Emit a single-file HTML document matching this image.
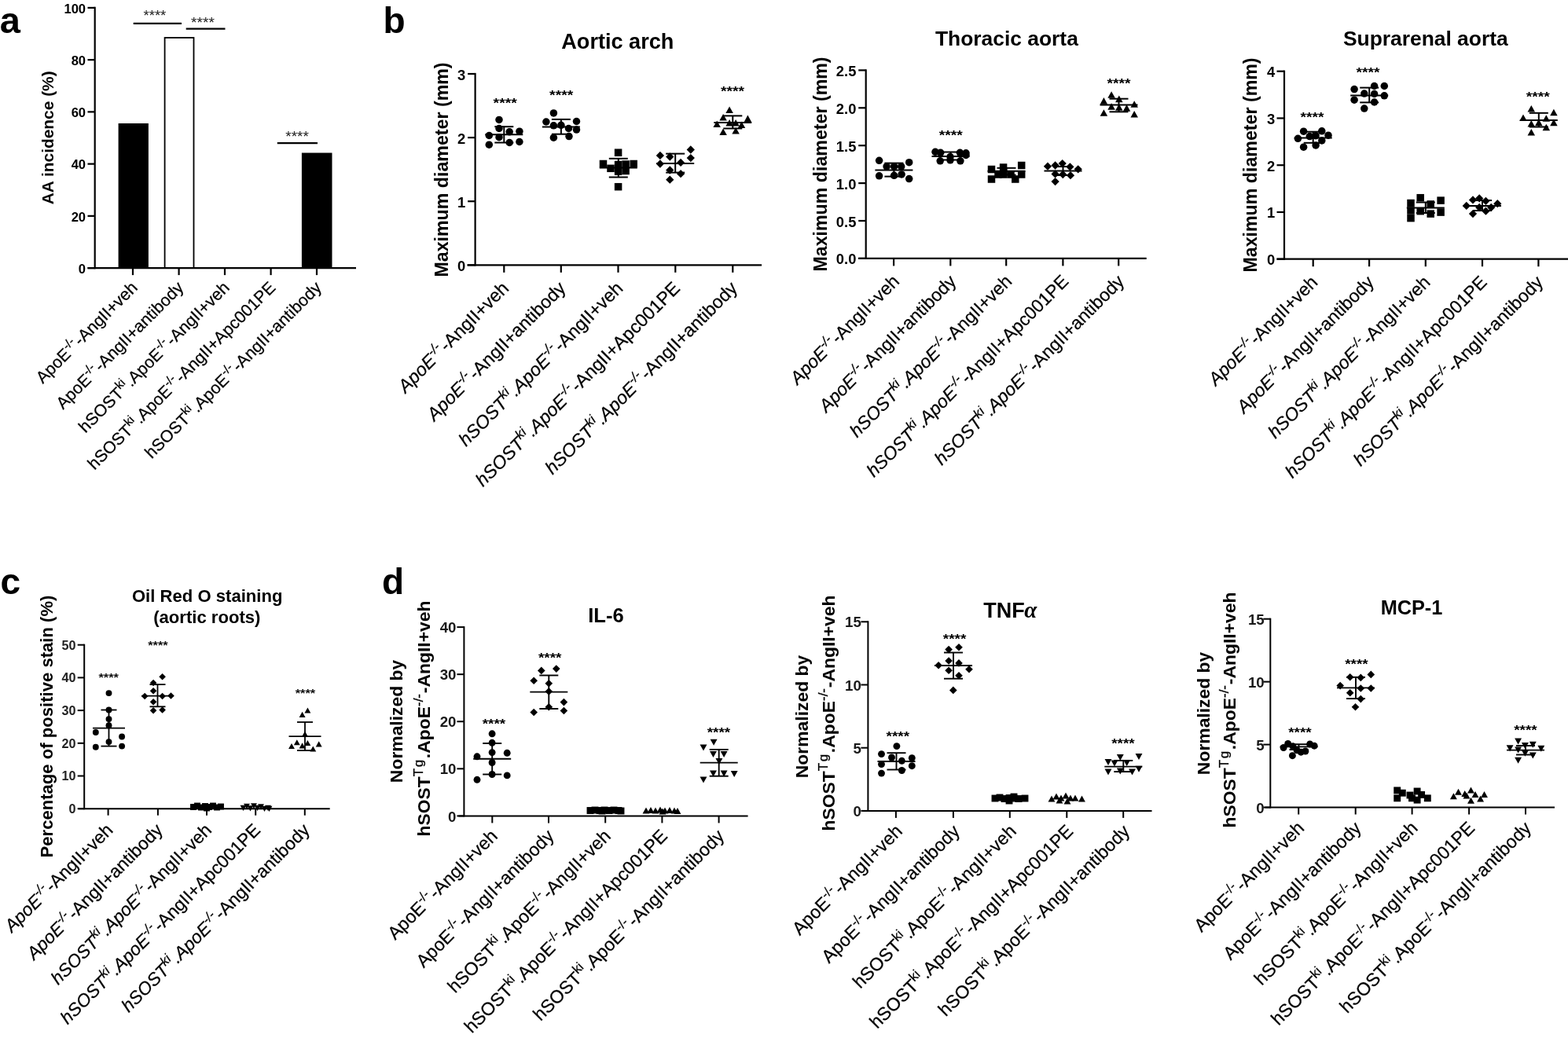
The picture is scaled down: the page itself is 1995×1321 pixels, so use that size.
<!DOCTYPE html>
<html><head><meta charset="utf-8"><title>Figure</title>
<style>html,body{margin:0;padding:0;background:#fff;overflow:hidden}svg{display:block}</style>
</head><body>
<svg width="1995" height="1321" viewBox="0 0 1995 1321" font-family="'Liberation Sans', Arial, sans-serif">
<rect width="1995" height="1321" fill="#fff"/>
<line x1="120.7" y1="8.8" x2="120.7" y2="342.2" stroke="#000" stroke-width="2.2"/>
<line x1="111.5" y1="341.1" x2="120.7" y2="341.1" stroke="#000" stroke-width="2.2"/>
<text x="109.1" y="347.74" font-size="16.6" font-weight="bold" text-anchor="end" fill="#000">0</text>
<line x1="111.5" y1="274.86" x2="120.7" y2="274.86" stroke="#000" stroke-width="2.2"/>
<text x="109.1" y="281.5" font-size="16.6" font-weight="bold" text-anchor="end" fill="#000">20</text>
<line x1="111.5" y1="208.62" x2="120.7" y2="208.62" stroke="#000" stroke-width="2.2"/>
<text x="109.1" y="215.26" font-size="16.6" font-weight="bold" text-anchor="end" fill="#000">40</text>
<line x1="111.5" y1="142.38" x2="120.7" y2="142.38" stroke="#000" stroke-width="2.2"/>
<text x="109.1" y="149.02" font-size="16.6" font-weight="bold" text-anchor="end" fill="#000">60</text>
<line x1="111.5" y1="76.14" x2="120.7" y2="76.14" stroke="#000" stroke-width="2.2"/>
<text x="109.1" y="82.78" font-size="16.6" font-weight="bold" text-anchor="end" fill="#000">80</text>
<line x1="111.5" y1="9.9" x2="120.7" y2="9.9" stroke="#000" stroke-width="2.2"/>
<text x="109.1" y="16.54" font-size="16.6" font-weight="bold" text-anchor="end" fill="#000">100</text>
<line x1="111.5" y1="341.1" x2="453" y2="341.1" stroke="#000" stroke-width="2.2"/>
<line x1="169" y1="341.1" x2="169" y2="350.1" stroke="#000" stroke-width="2.2"/>
<line x1="227.6" y1="341.1" x2="227.6" y2="350.1" stroke="#000" stroke-width="2.2"/>
<line x1="286" y1="341.1" x2="286" y2="350.1" stroke="#000" stroke-width="2.2"/>
<line x1="344.6" y1="341.1" x2="344.6" y2="350.1" stroke="#000" stroke-width="2.2"/>
<line x1="403" y1="341.1" x2="403" y2="350.1" stroke="#000" stroke-width="2.2"/>
<rect x="150.6" y="157" width="38.3" height="184.1"/>
<rect x="209.6" y="48" width="36.9" height="293.1" fill="none" stroke="#000" stroke-width="1.8"/>
<rect x="383.9" y="194.5" width="38.6" height="146.6"/>
<line x1="169.7" y1="29.9" x2="231" y2="29.9" stroke="#000" stroke-width="2.2"/>
<line x1="236.7" y1="36.7" x2="286.5" y2="36.7" stroke="#000" stroke-width="2.2"/>
<line x1="352.8" y1="182.1" x2="404" y2="182.1" stroke="#000" stroke-width="2.2"/>
<text x="196.9" y="25.66" font-size="18.5" text-anchor="middle" fill="#222" textLength="28.8" lengthAdjust="spacingAndGlyphs">****</text>
<text x="258" y="34.66" font-size="18.5" text-anchor="middle" fill="#222" textLength="29.8" lengthAdjust="spacingAndGlyphs">****</text>
<text x="378.1" y="179.96" font-size="18.5" text-anchor="middle" fill="#222" textLength="29.5" lengthAdjust="spacingAndGlyphs">****</text>
<text transform="translate(68,175.3) rotate(-90)" x="0" y="0" font-size="20.9" font-weight="bold" text-anchor="middle">AA incidence (%)</text>
<text x="-0.3" y="41.5" font-size="47" font-weight="bold" text-anchor="start" fill="#000">a</text>
<text transform="translate(176.2,367.3) rotate(-45)" x="0" y="0" font-size="21.4" text-anchor="end" stroke="#000" stroke-width="0.25"><tspan>ApoE</tspan><tspan dy="-8.56" font-size="15.41">-/-</tspan><tspan dx="1.28" dy="8.56">-AngII+veh</tspan></text>
<text transform="translate(234.8,367.3) rotate(-45)" x="0" y="0" font-size="21.4" text-anchor="end" stroke="#000" stroke-width="0.25"><tspan>ApoE</tspan><tspan dy="-8.56" font-size="15.41">-/-</tspan><tspan dx="1.28" dy="8.56">-AngII+antibody</tspan></text>
<text transform="translate(293.2,367.3) rotate(-45)" x="0" y="0" font-size="21.4" text-anchor="end" stroke="#000" stroke-width="0.25"><tspan>hSOST</tspan><tspan dy="-8.56" font-size="15.41">ki</tspan><tspan dx="1.28" dy="8.56">.ApoE</tspan><tspan dy="-8.56" font-size="15.41">-/-</tspan><tspan dx="1.28" dy="8.56">-AngII+veh</tspan></text>
<text transform="translate(351.8,367.3) rotate(-45)" x="0" y="0" font-size="21.4" text-anchor="end" stroke="#000" stroke-width="0.25"><tspan>hSOST</tspan><tspan dy="-8.56" font-size="15.41">ki</tspan><tspan dx="1.28" dy="8.56">.ApoE</tspan><tspan dy="-8.56" font-size="15.41">-/-</tspan><tspan dx="1.28" dy="8.56">-AngII+Apc001PE</tspan></text>
<text transform="translate(410.2,367.3) rotate(-45)" x="0" y="0" font-size="21.4" text-anchor="end" stroke="#000" stroke-width="0.25"><tspan>hSOST</tspan><tspan dy="-8.56" font-size="15.41">ki</tspan><tspan dx="1.28" dy="8.56">.ApoE</tspan><tspan dy="-8.56" font-size="15.41">-/-</tspan><tspan dx="1.28" dy="8.56">-AngII+antibody</tspan></text>
<text x="487.6" y="41.8" font-size="46" font-weight="bold" text-anchor="start" fill="#000">b</text>
<line x1="604.6" y1="92.9" x2="604.6" y2="338.4" stroke="#000" stroke-width="2.2"/>
<line x1="595.1" y1="337.3" x2="604.6" y2="337.3" stroke="#000" stroke-width="2.2"/>
<text x="592.2" y="344.84" font-size="18.4" font-weight="bold" text-anchor="end" fill="#000">0</text>
<line x1="595.1" y1="256.2" x2="604.6" y2="256.2" stroke="#000" stroke-width="2.2"/>
<text x="592.2" y="263.74" font-size="18.4" font-weight="bold" text-anchor="end" fill="#000">1</text>
<line x1="595.1" y1="175.1" x2="604.6" y2="175.1" stroke="#000" stroke-width="2.2"/>
<text x="592.2" y="182.64" font-size="18.4" font-weight="bold" text-anchor="end" fill="#000">2</text>
<line x1="595.1" y1="94" x2="604.6" y2="94" stroke="#000" stroke-width="2.2"/>
<text x="592.2" y="101.54" font-size="18.4" font-weight="bold" text-anchor="end" fill="#000">3</text>
<line x1="594.4" y1="337.3" x2="969.1" y2="337.3" stroke="#000" stroke-width="2.2"/>
<line x1="641.3" y1="337.3" x2="641.3" y2="346.8" stroke="#000" stroke-width="2.2"/>
<line x1="713.8" y1="337.3" x2="713.8" y2="346.8" stroke="#000" stroke-width="2.2"/>
<line x1="786.5" y1="337.3" x2="786.5" y2="346.8" stroke="#000" stroke-width="2.2"/>
<line x1="859.3" y1="337.3" x2="859.3" y2="346.8" stroke="#000" stroke-width="2.2"/>
<line x1="932.3" y1="337.3" x2="932.3" y2="346.8" stroke="#000" stroke-width="2.2"/>
<circle cx="635" cy="152.4" r="4.75"/>
<circle cx="635" cy="163.5" r="4.75"/>
<circle cx="648.2" cy="167.8" r="4.75"/>
<circle cx="660.9" cy="167.2" r="4.75"/>
<circle cx="622.3" cy="172.5" r="4.75"/>
<circle cx="635" cy="174.7" r="4.75"/>
<circle cx="622.3" cy="184.2" r="4.75"/>
<circle cx="648.2" cy="181.5" r="4.75"/>
<circle cx="660.9" cy="180.5" r="4.75"/>
<circle cx="704.4" cy="143.9" r="4.75"/>
<circle cx="694.9" cy="155" r="4.75"/>
<circle cx="733.5" cy="154.5" r="4.75"/>
<circle cx="704.4" cy="159.8" r="4.75"/>
<circle cx="713.9" cy="159.3" r="4.75"/>
<circle cx="723.5" cy="163.5" r="4.75"/>
<circle cx="733.5" cy="165.1" r="4.75"/>
<circle cx="704.4" cy="175.2" r="4.75"/>
<circle cx="724" cy="173.6" r="4.75"/>
<rect x="781.85" y="189.45" width="9.5" height="9.5"/>
<rect x="762.75" y="203.75" width="9.5" height="9.5"/>
<rect x="801.45" y="203.75" width="9.5" height="9.5"/>
<rect x="772.25" y="209.55" width="9.5" height="9.5"/>
<rect x="781.85" y="204.75" width="9.5" height="9.5"/>
<rect x="791.35" y="204.25" width="9.5" height="9.5"/>
<rect x="781.85" y="213.35" width="9.5" height="9.5"/>
<rect x="791.35" y="212.75" width="9.5" height="9.5"/>
<rect x="781.85" y="232.95" width="9.5" height="9.5"/>
<path d="M839.9 192.77L845.03 197.9L839.9 203.03L834.77 197.9Z"/>
<path d="M852.3 194.37L857.43 199.5L852.3 204.63L847.17 199.5Z"/>
<path d="M878.8 185.37L883.93 190.5L878.8 195.63L873.67 190.5Z"/>
<path d="M878.8 195.97L883.93 201.1L878.8 206.23L873.67 201.1Z"/>
<path d="M839.9 203.37L845.03 208.5L839.9 213.63L834.77 208.5Z"/>
<path d="M866.1 201.77L871.23 206.9L866.1 212.03L860.97 206.9Z"/>
<path d="M852.3 211.37L857.43 216.5L852.3 221.63L847.17 216.5Z"/>
<path d="M866.1 216.07L871.23 221.2L866.1 226.33L860.97 221.2Z"/>
<path d="M852.3 223.57L857.43 228.7L852.3 233.83L847.17 228.7Z"/>
<path d="M928.1 135.4L932.85 143.95L923.35 143.95Z"/>
<path d="M920.1 145L924.85 153.55L915.35 153.55Z"/>
<path d="M951.4 146.6L956.15 155.15L946.65 155.15Z"/>
<path d="M912.2 153.5L916.95 162.05L907.45 162.05Z"/>
<path d="M928.1 151.9L932.85 160.45L923.35 160.45Z"/>
<path d="M936.1 151.9L940.85 160.45L931.35 160.45Z"/>
<path d="M943.5 154.5L948.25 163.05L938.75 163.05Z"/>
<path d="M920.1 163.5L924.85 172.05L915.35 172.05Z"/>
<path d="M936.1 161.9L940.85 170.45L931.35 170.45Z"/>
<line x1="617.3" y1="171.3" x2="665.3" y2="171.3" stroke="#000" stroke-width="2"/>
<line x1="641.3" y1="161.2" x2="641.3" y2="181.5" stroke="#000" stroke-width="2"/>
<line x1="629.3" y1="161.2" x2="653.3" y2="161.2" stroke="#000" stroke-width="2"/>
<line x1="629.3" y1="181.5" x2="653.3" y2="181.5" stroke="#000" stroke-width="2"/>
<text x="642.7" y="136.53" font-size="17" font-weight="bold" text-anchor="middle" fill="#000" textLength="30.2" lengthAdjust="spacingAndGlyphs">****</text>
<line x1="689.9" y1="161.4" x2="737.9" y2="161.4" stroke="#000" stroke-width="2"/>
<line x1="713.9" y1="151.9" x2="713.9" y2="170.7" stroke="#000" stroke-width="2"/>
<line x1="701.9" y1="151.9" x2="725.9" y2="151.9" stroke="#000" stroke-width="2"/>
<line x1="701.9" y1="170.7" x2="725.9" y2="170.7" stroke="#000" stroke-width="2"/>
<text x="714.2" y="126.53" font-size="17" font-weight="bold" text-anchor="middle" fill="#000" textLength="30.2" lengthAdjust="spacingAndGlyphs">****</text>
<line x1="762.8" y1="213.6" x2="810.8" y2="213.6" stroke="#000" stroke-width="2"/>
<line x1="786.8" y1="201.8" x2="786.8" y2="225.5" stroke="#000" stroke-width="2"/>
<line x1="774.8" y1="201.8" x2="798.8" y2="201.8" stroke="#000" stroke-width="2"/>
<line x1="774.8" y1="225.5" x2="798.8" y2="225.5" stroke="#000" stroke-width="2"/>
<line x1="835.2" y1="208" x2="883.2" y2="208" stroke="#000" stroke-width="2"/>
<line x1="859.2" y1="195.6" x2="859.2" y2="219.6" stroke="#000" stroke-width="2"/>
<line x1="847.2" y1="195.6" x2="871.2" y2="195.6" stroke="#000" stroke-width="2"/>
<line x1="847.2" y1="219.6" x2="871.2" y2="219.6" stroke="#000" stroke-width="2"/>
<line x1="908.3" y1="156" x2="956.3" y2="156" stroke="#000" stroke-width="2"/>
<line x1="932.3" y1="147.4" x2="932.3" y2="163.5" stroke="#000" stroke-width="2"/>
<line x1="920.3" y1="147.4" x2="944.3" y2="147.4" stroke="#000" stroke-width="2"/>
<line x1="920.3" y1="163.5" x2="944.3" y2="163.5" stroke="#000" stroke-width="2"/>
<text x="932" y="122.23" font-size="17" font-weight="bold" text-anchor="middle" fill="#000" textLength="30.2" lengthAdjust="spacingAndGlyphs">****</text>
<text x="785.8" y="61.8" font-size="27.1" font-weight="bold" text-anchor="middle" fill="#000">Aortic arch</text>
<text transform="translate(569.5,216) rotate(-90)" x="0" y="0" font-size="23.2" font-weight="bold" text-anchor="middle">Maximum diameter (mm)</text>
<text transform="translate(648.6,368.3) rotate(-45)" x="0" y="0" font-size="23.3" text-anchor="end" stroke="#000" stroke-width="0.25"><tspan font-style="italic">ApoE</tspan><tspan font-style="italic" dy="-9.32" font-size="16.78">-/-</tspan><tspan dx="1.4" dy="9.32">-AngII+veh</tspan></text>
<text transform="translate(721.1,368.3) rotate(-45)" x="0" y="0" font-size="23.3" text-anchor="end" stroke="#000" stroke-width="0.25"><tspan font-style="italic">ApoE</tspan><tspan font-style="italic" dy="-9.32" font-size="16.78">-/-</tspan><tspan dx="1.4" dy="9.32">-AngII+antibody</tspan></text>
<text transform="translate(793.8,368.3) rotate(-45)" x="0" y="0" font-size="23.3" text-anchor="end" stroke="#000" stroke-width="0.25"><tspan font-style="italic">hSOST</tspan><tspan font-style="italic" dy="-9.32" font-size="16.78">ki</tspan><tspan font-style="italic" dx="1.4" dy="9.32">.ApoE</tspan><tspan font-style="italic" dy="-9.32" font-size="16.78">-/-</tspan><tspan dx="1.4" dy="9.32">-AngII+veh</tspan></text>
<text transform="translate(866.6,368.3) rotate(-45)" x="0" y="0" font-size="23.3" text-anchor="end" stroke="#000" stroke-width="0.25"><tspan font-style="italic">hSOST</tspan><tspan font-style="italic" dy="-9.32" font-size="16.78">ki</tspan><tspan font-style="italic" dx="1.4" dy="9.32">.ApoE</tspan><tspan font-style="italic" dy="-9.32" font-size="16.78">-/-</tspan><tspan dx="1.4" dy="9.32">-AngII+Apc001PE</tspan></text>
<text transform="translate(939.6,368.3) rotate(-45)" x="0" y="0" font-size="23.3" text-anchor="end" stroke="#000" stroke-width="0.25"><tspan font-style="italic">hSOST</tspan><tspan font-style="italic" dy="-9.32" font-size="16.78">ki</tspan><tspan font-style="italic" dx="1.4" dy="9.32">.ApoE</tspan><tspan font-style="italic" dy="-9.32" font-size="16.78">-/-</tspan><tspan dx="1.4" dy="9.32">-AngII+antibody</tspan></text>
<line x1="1101.7" y1="88.3" x2="1101.7" y2="330" stroke="#000" stroke-width="2.2"/>
<line x1="1092.2" y1="328.9" x2="1101.7" y2="328.9" stroke="#000" stroke-width="2.2"/>
<text x="1089.4" y="336.44" font-size="18.4" font-weight="bold" text-anchor="end" fill="#000">0.0</text>
<line x1="1092.2" y1="281" x2="1101.7" y2="281" stroke="#000" stroke-width="2.2"/>
<text x="1089.4" y="288.54" font-size="18.4" font-weight="bold" text-anchor="end" fill="#000">0.5</text>
<line x1="1092.2" y1="233.1" x2="1101.7" y2="233.1" stroke="#000" stroke-width="2.2"/>
<text x="1089.4" y="240.64" font-size="18.4" font-weight="bold" text-anchor="end" fill="#000">1.0</text>
<line x1="1092.2" y1="185.2" x2="1101.7" y2="185.2" stroke="#000" stroke-width="2.2"/>
<text x="1089.4" y="192.74" font-size="18.4" font-weight="bold" text-anchor="end" fill="#000">1.5</text>
<line x1="1092.2" y1="137.3" x2="1101.7" y2="137.3" stroke="#000" stroke-width="2.2"/>
<text x="1089.4" y="144.84" font-size="18.4" font-weight="bold" text-anchor="end" fill="#000">2.0</text>
<line x1="1092.2" y1="89.4" x2="1101.7" y2="89.4" stroke="#000" stroke-width="2.2"/>
<text x="1089.4" y="96.94" font-size="18.4" font-weight="bold" text-anchor="end" fill="#000">2.5</text>
<line x1="1092" y1="328.9" x2="1458.7" y2="328.9" stroke="#000" stroke-width="2.2"/>
<line x1="1137.1" y1="328.9" x2="1137.1" y2="338.4" stroke="#000" stroke-width="2.2"/>
<line x1="1209.3" y1="328.9" x2="1209.3" y2="338.4" stroke="#000" stroke-width="2.2"/>
<line x1="1280.2" y1="328.9" x2="1280.2" y2="338.4" stroke="#000" stroke-width="2.2"/>
<line x1="1352.4" y1="328.9" x2="1352.4" y2="338.4" stroke="#000" stroke-width="2.2"/>
<line x1="1423.2" y1="328.9" x2="1423.2" y2="338.4" stroke="#000" stroke-width="2.2"/>
<circle cx="1118.6" cy="204.3" r="4.75"/>
<circle cx="1156.7" cy="206.7" r="4.75"/>
<circle cx="1128.1" cy="211.9" r="4.75"/>
<circle cx="1137.6" cy="211.9" r="4.75"/>
<circle cx="1146.7" cy="211.9" r="4.75"/>
<circle cx="1118.6" cy="223.8" r="4.75"/>
<circle cx="1137.6" cy="223.3" r="4.75"/>
<circle cx="1147.1" cy="221.9" r="4.75"/>
<circle cx="1156.7" cy="227.6" r="4.75"/>
<circle cx="1190" cy="193.3" r="4.75"/>
<circle cx="1196.7" cy="194.3" r="4.75"/>
<circle cx="1221.4" cy="194.3" r="4.75"/>
<circle cx="1229" cy="194.8" r="4.75"/>
<circle cx="1209" cy="199.5" r="4.75"/>
<circle cx="1196.2" cy="204.8" r="4.75"/>
<circle cx="1209" cy="203.8" r="4.75"/>
<circle cx="1221.9" cy="204.8" r="4.75"/>
<circle cx="1229" cy="197.5" r="4.75"/>
<rect x="1256.75" y="210.75" width="9.5" height="9.5"/>
<rect x="1271.85" y="208.25" width="9.5" height="9.5"/>
<rect x="1294.95" y="205.75" width="9.5" height="9.5"/>
<rect x="1256.75" y="223.25" width="9.5" height="9.5"/>
<rect x="1287.05" y="223.25" width="9.5" height="9.5"/>
<rect x="1294.95" y="217.25" width="9.5" height="9.5"/>
<rect x="1271.85" y="217.25" width="9.5" height="9.5"/>
<rect x="1281.25" y="217.25" width="9.5" height="9.5"/>
<rect x="1265.25" y="217.25" width="9.5" height="9.5"/>
<path d="M1333 206.57L1338.13 211.7L1333 216.83L1327.87 211.7Z"/>
<path d="M1342.6 205.37L1347.73 210.5L1342.6 215.63L1337.47 210.5Z"/>
<path d="M1351.7 202.97L1356.83 208.1L1351.7 213.23L1346.57 208.1Z"/>
<path d="M1361.4 207.17L1366.53 212.3L1361.4 217.43L1356.27 212.3Z"/>
<path d="M1371.7 210.17L1376.83 215.3L1371.7 220.43L1366.57 215.3Z"/>
<path d="M1342.6 216.27L1347.73 221.4L1342.6 226.53L1337.47 221.4Z"/>
<path d="M1352.3 216.87L1357.43 222L1352.3 227.13L1347.17 222Z"/>
<path d="M1362 218.07L1367.13 223.2L1362 228.33L1356.87 223.2Z"/>
<path d="M1342.6 225.97L1347.73 231.1L1342.6 236.23L1337.47 231.1Z"/>
<path d="M1414.1 116.2L1418.85 124.75L1409.35 124.75Z"/>
<path d="M1423.8 121.6L1428.55 130.15L1419.05 130.15Z"/>
<path d="M1404.4 124.1L1409.15 132.65L1399.65 132.65Z"/>
<path d="M1443.2 128.3L1447.95 136.85L1438.45 136.85Z"/>
<path d="M1414.1 131.3L1418.85 139.85L1409.35 139.85Z"/>
<path d="M1423.8 132.3L1428.55 140.85L1419.05 140.85Z"/>
<path d="M1433.5 133.1L1438.25 141.65L1428.75 141.65Z"/>
<path d="M1404.4 139.2L1409.15 147.75L1399.65 147.75Z"/>
<path d="M1443.2 141L1447.95 149.55L1438.45 149.55Z"/>
<line x1="1113.4" y1="216.5" x2="1161.4" y2="216.5" stroke="#000" stroke-width="2"/>
<line x1="1137.4" y1="207.6" x2="1137.4" y2="224.6" stroke="#000" stroke-width="2"/>
<line x1="1125.4" y1="207.6" x2="1149.4" y2="207.6" stroke="#000" stroke-width="2"/>
<line x1="1125.4" y1="224.6" x2="1149.4" y2="224.6" stroke="#000" stroke-width="2"/>
<line x1="1185.5" y1="198.9" x2="1233.5" y2="198.9" stroke="#000" stroke-width="2"/>
<line x1="1209.5" y1="193.5" x2="1209.5" y2="203.5" stroke="#000" stroke-width="2"/>
<line x1="1197.5" y1="193.5" x2="1221.5" y2="193.5" stroke="#000" stroke-width="2"/>
<line x1="1197.5" y1="203.5" x2="1221.5" y2="203.5" stroke="#000" stroke-width="2"/>
<text x="1209.8" y="177.63" font-size="17" font-weight="bold" text-anchor="middle" fill="#000" textLength="30" lengthAdjust="spacingAndGlyphs">****</text>
<line x1="1256.5" y1="217.8" x2="1304.5" y2="217.8" stroke="#000" stroke-width="2"/>
<line x1="1280.5" y1="213.8" x2="1280.5" y2="222.6" stroke="#000" stroke-width="2"/>
<line x1="1268.5" y1="213.8" x2="1292.5" y2="213.8" stroke="#000" stroke-width="2"/>
<line x1="1268.5" y1="222.6" x2="1292.5" y2="222.6" stroke="#000" stroke-width="2"/>
<line x1="1328.5" y1="217.4" x2="1376.5" y2="217.4" stroke="#000" stroke-width="2"/>
<line x1="1352.5" y1="212" x2="1352.5" y2="223" stroke="#000" stroke-width="2"/>
<line x1="1340.5" y1="212" x2="1364.5" y2="212" stroke="#000" stroke-width="2"/>
<line x1="1340.5" y1="223" x2="1364.5" y2="223" stroke="#000" stroke-width="2"/>
<line x1="1399.5" y1="133.4" x2="1447.5" y2="133.4" stroke="#000" stroke-width="2"/>
<line x1="1423.5" y1="125.7" x2="1423.5" y2="142.3" stroke="#000" stroke-width="2"/>
<line x1="1411.5" y1="125.7" x2="1435.5" y2="125.7" stroke="#000" stroke-width="2"/>
<line x1="1411.5" y1="142.3" x2="1435.5" y2="142.3" stroke="#000" stroke-width="2"/>
<text x="1423.5" y="111.63" font-size="17" font-weight="bold" text-anchor="middle" fill="#000" textLength="30" lengthAdjust="spacingAndGlyphs">****</text>
<text x="1280.9" y="57.8" font-size="26.4" font-weight="bold" text-anchor="middle" fill="#000">Thoracic aorta</text>
<text transform="translate(1051.5,209) rotate(-90)" x="0" y="0" font-size="23.2" font-weight="bold" text-anchor="middle">Maximum diameter (mm)</text>
<text transform="translate(1145.6,359.5) rotate(-45)" x="0" y="0" font-size="23" text-anchor="end" stroke="#000" stroke-width="0.25"><tspan font-style="italic">ApoE</tspan><tspan font-style="italic" dy="-9.2" font-size="16.56">-/-</tspan><tspan dx="1.38" dy="9.2">-AngII+veh</tspan></text>
<text transform="translate(1217.8,359.5) rotate(-45)" x="0" y="0" font-size="23" text-anchor="end" stroke="#000" stroke-width="0.25"><tspan font-style="italic">ApoE</tspan><tspan font-style="italic" dy="-9.2" font-size="16.56">-/-</tspan><tspan dx="1.38" dy="9.2">-AngII+antibody</tspan></text>
<text transform="translate(1288.7,359.5) rotate(-45)" x="0" y="0" font-size="23" text-anchor="end" stroke="#000" stroke-width="0.25"><tspan font-style="italic">hSOST</tspan><tspan font-style="italic" dy="-9.2" font-size="16.56">ki</tspan><tspan font-style="italic" dx="1.38" dy="9.2">.ApoE</tspan><tspan font-style="italic" dy="-9.2" font-size="16.56">-/-</tspan><tspan dx="1.38" dy="9.2">-AngII+veh</tspan></text>
<text transform="translate(1360.9,359.5) rotate(-45)" x="0" y="0" font-size="23" text-anchor="end" stroke="#000" stroke-width="0.25"><tspan font-style="italic">hSOST</tspan><tspan font-style="italic" dy="-9.2" font-size="16.56">ki</tspan><tspan font-style="italic" dx="1.38" dy="9.2">.ApoE</tspan><tspan font-style="italic" dy="-9.2" font-size="16.56">-/-</tspan><tspan dx="1.38" dy="9.2">-AngII+Apc001PE</tspan></text>
<text transform="translate(1431.7,359.5) rotate(-45)" x="0" y="0" font-size="23" text-anchor="end" stroke="#000" stroke-width="0.25"><tspan font-style="italic">hSOST</tspan><tspan font-style="italic" dy="-9.2" font-size="16.56">ki</tspan><tspan font-style="italic" dx="1.38" dy="9.2">.ApoE</tspan><tspan font-style="italic" dy="-9.2" font-size="16.56">-/-</tspan><tspan dx="1.38" dy="9.2">-AngII+antibody</tspan></text>
<line x1="1634" y1="89.6" x2="1634" y2="330.8" stroke="#000" stroke-width="2.2"/>
<line x1="1624.5" y1="329.7" x2="1634" y2="329.7" stroke="#000" stroke-width="2.2"/>
<text x="1622.3" y="337.24" font-size="18.4" font-weight="bold" text-anchor="end" fill="#000">0</text>
<line x1="1624.5" y1="269.95" x2="1634" y2="269.95" stroke="#000" stroke-width="2.2"/>
<text x="1622.3" y="277.49" font-size="18.4" font-weight="bold" text-anchor="end" fill="#000">1</text>
<line x1="1624.5" y1="210.2" x2="1634" y2="210.2" stroke="#000" stroke-width="2.2"/>
<text x="1622.3" y="217.74" font-size="18.4" font-weight="bold" text-anchor="end" fill="#000">2</text>
<line x1="1624.5" y1="150.45" x2="1634" y2="150.45" stroke="#000" stroke-width="2.2"/>
<text x="1622.3" y="157.99" font-size="18.4" font-weight="bold" text-anchor="end" fill="#000">3</text>
<line x1="1624.5" y1="90.7" x2="1634" y2="90.7" stroke="#000" stroke-width="2.2"/>
<text x="1622.3" y="98.24" font-size="18.4" font-weight="bold" text-anchor="end" fill="#000">4</text>
<line x1="1624.5" y1="329.7" x2="1996" y2="329.7" stroke="#000" stroke-width="2.2"/>
<line x1="1670.7" y1="329.7" x2="1670.7" y2="339.2" stroke="#000" stroke-width="2.2"/>
<line x1="1742.1" y1="329.7" x2="1742.1" y2="339.2" stroke="#000" stroke-width="2.2"/>
<line x1="1813.8" y1="329.7" x2="1813.8" y2="339.2" stroke="#000" stroke-width="2.2"/>
<line x1="1886" y1="329.7" x2="1886" y2="339.2" stroke="#000" stroke-width="2.2"/>
<line x1="1957.4" y1="329.7" x2="1957.4" y2="339.2" stroke="#000" stroke-width="2.2"/>
<circle cx="1658.6" cy="167.2" r="4.75"/>
<circle cx="1681.8" cy="166.8" r="4.75"/>
<circle cx="1651.4" cy="176.3" r="4.75"/>
<circle cx="1666.3" cy="173.6" r="4.75"/>
<circle cx="1674.1" cy="172.7" r="4.75"/>
<circle cx="1690" cy="172.2" r="4.75"/>
<circle cx="1681.8" cy="179" r="4.75"/>
<circle cx="1658.6" cy="187.2" r="4.75"/>
<circle cx="1674.1" cy="184.9" r="4.75"/>
<circle cx="1723.1" cy="113.6" r="4.75"/>
<circle cx="1748.6" cy="109.5" r="4.75"/>
<circle cx="1761.3" cy="109.5" r="4.75"/>
<circle cx="1735.8" cy="119.1" r="4.75"/>
<circle cx="1748.6" cy="119.5" r="4.75"/>
<circle cx="1761.3" cy="121.8" r="4.75"/>
<circle cx="1723.1" cy="127.2" r="4.75"/>
<circle cx="1748.6" cy="130" r="4.75"/>
<circle cx="1735.8" cy="138.1" r="4.75"/>
<rect x="1790.25" y="253.75" width="9.5" height="9.5"/>
<rect x="1790.25" y="263.25" width="9.5" height="9.5"/>
<rect x="1790.25" y="272.85" width="9.5" height="9.5"/>
<rect x="1802.45" y="246.95" width="9.5" height="9.5"/>
<rect x="1802.45" y="263.95" width="9.5" height="9.5"/>
<rect x="1815.45" y="255.15" width="9.5" height="9.5"/>
<rect x="1815.45" y="267.35" width="9.5" height="9.5"/>
<rect x="1828.35" y="250.35" width="9.5" height="9.5"/>
<rect x="1828.35" y="265.35" width="9.5" height="9.5"/>
<path d="M1865.8 256.77L1870.93 261.9L1865.8 267.03L1860.67 261.9Z"/>
<path d="M1874 249.27L1879.13 254.4L1874 259.53L1868.87 254.4Z"/>
<path d="M1882.2 247.27L1887.33 252.4L1882.2 257.53L1877.07 252.4Z"/>
<path d="M1890.4 250.67L1895.53 255.8L1890.4 260.93L1885.27 255.8Z"/>
<path d="M1905.3 254.07L1910.43 259.2L1905.3 264.33L1900.17 259.2Z"/>
<path d="M1882.2 258.87L1887.33 264L1882.2 269.13L1877.07 264Z"/>
<path d="M1890.4 263.57L1895.53 268.7L1890.4 273.83L1885.27 268.7Z"/>
<path d="M1897.2 258.87L1902.33 264L1897.2 269.13L1892.07 264Z"/>
<path d="M1874 266.97L1879.13 272.1L1874 277.23L1868.87 272.1Z"/>
<path d="M1948.3 133.9L1953.05 142.45L1943.55 142.45Z"/>
<path d="M1976.9 138.7L1981.65 147.25L1972.15 147.25Z"/>
<path d="M1938 145.5L1942.75 154.05L1933.25 154.05Z"/>
<path d="M1967.3 146.2L1972.05 154.75L1962.55 154.75Z"/>
<path d="M1948.3 153L1953.05 161.55L1943.55 161.55Z"/>
<path d="M1957.8 151.6L1962.55 160.15L1953.05 160.15Z"/>
<path d="M1976.9 151.6L1981.65 160.15L1972.15 160.15Z"/>
<path d="M1967.3 157.8L1972.05 166.35L1962.55 166.35Z"/>
<path d="M1948.3 163.9L1953.05 172.45L1943.55 172.45Z"/>
<line x1="1646.7" y1="175.4" x2="1694.7" y2="175.4" stroke="#000" stroke-width="2"/>
<line x1="1670.7" y1="167.7" x2="1670.7" y2="181.8" stroke="#000" stroke-width="2"/>
<line x1="1658.7" y1="167.7" x2="1682.7" y2="167.7" stroke="#000" stroke-width="2"/>
<line x1="1658.7" y1="181.8" x2="1682.7" y2="181.8" stroke="#000" stroke-width="2"/>
<text x="1669.5" y="154.83" font-size="17" font-weight="bold" text-anchor="middle" fill="#000" textLength="30" lengthAdjust="spacingAndGlyphs">****</text>
<line x1="1718.2" y1="121.6" x2="1766.2" y2="121.6" stroke="#000" stroke-width="2"/>
<line x1="1742.2" y1="111.6" x2="1742.2" y2="130.4" stroke="#000" stroke-width="2"/>
<line x1="1730.2" y1="111.6" x2="1754.2" y2="111.6" stroke="#000" stroke-width="2"/>
<line x1="1730.2" y1="130.4" x2="1754.2" y2="130.4" stroke="#000" stroke-width="2"/>
<text x="1740.6" y="98.13" font-size="17" font-weight="bold" text-anchor="middle" fill="#000" textLength="30" lengthAdjust="spacingAndGlyphs">****</text>
<line x1="1789.8" y1="264.6" x2="1837.8" y2="264.6" stroke="#000" stroke-width="2"/>
<line x1="1813.8" y1="257.5" x2="1813.8" y2="271" stroke="#000" stroke-width="2"/>
<line x1="1801.8" y1="257.5" x2="1825.8" y2="257.5" stroke="#000" stroke-width="2"/>
<line x1="1801.8" y1="271" x2="1825.8" y2="271" stroke="#000" stroke-width="2"/>
<line x1="1862" y1="261.9" x2="1910" y2="261.9" stroke="#000" stroke-width="2"/>
<line x1="1886" y1="255" x2="1886" y2="268" stroke="#000" stroke-width="2"/>
<line x1="1874" y1="255" x2="1898" y2="255" stroke="#000" stroke-width="2"/>
<line x1="1874" y1="268" x2="1898" y2="268" stroke="#000" stroke-width="2"/>
<line x1="1933.8" y1="152.9" x2="1981.8" y2="152.9" stroke="#000" stroke-width="2"/>
<line x1="1957.8" y1="143.8" x2="1957.8" y2="161.5" stroke="#000" stroke-width="2"/>
<line x1="1945.8" y1="143.8" x2="1969.8" y2="143.8" stroke="#000" stroke-width="2"/>
<line x1="1945.8" y1="161.5" x2="1969.8" y2="161.5" stroke="#000" stroke-width="2"/>
<text x="1956.8" y="128.53" font-size="17" font-weight="bold" text-anchor="middle" fill="#000" textLength="30" lengthAdjust="spacingAndGlyphs">****</text>
<text x="1813.8" y="57.8" font-size="26.4" font-weight="bold" text-anchor="middle" fill="#000">Suprarenal aorta</text>
<text transform="translate(1598.5,210) rotate(-90)" x="0" y="0" font-size="23.2" font-weight="bold" text-anchor="middle">Maximum diameter (mm)</text>
<text transform="translate(1677.9,360.7) rotate(-45)" x="0" y="0" font-size="23" text-anchor="end" stroke="#000" stroke-width="0.25"><tspan font-style="italic">ApoE</tspan><tspan font-style="italic" dy="-9.2" font-size="16.56">-/-</tspan><tspan dx="1.38" dy="9.2">-AngII+veh</tspan></text>
<text transform="translate(1749.3,360.7) rotate(-45)" x="0" y="0" font-size="23" text-anchor="end" stroke="#000" stroke-width="0.25"><tspan font-style="italic">ApoE</tspan><tspan font-style="italic" dy="-9.2" font-size="16.56">-/-</tspan><tspan dx="1.38" dy="9.2">-AngII+antibody</tspan></text>
<text transform="translate(1821,360.7) rotate(-45)" x="0" y="0" font-size="23" text-anchor="end" stroke="#000" stroke-width="0.25"><tspan font-style="italic">hSOST</tspan><tspan font-style="italic" dy="-9.2" font-size="16.56">ki</tspan><tspan font-style="italic" dx="1.38" dy="9.2">.ApoE</tspan><tspan font-style="italic" dy="-9.2" font-size="16.56">-/-</tspan><tspan dx="1.38" dy="9.2">-AngII+veh</tspan></text>
<text transform="translate(1893.2,360.7) rotate(-45)" x="0" y="0" font-size="23" text-anchor="end" stroke="#000" stroke-width="0.25"><tspan font-style="italic">hSOST</tspan><tspan font-style="italic" dy="-9.2" font-size="16.56">ki</tspan><tspan font-style="italic" dx="1.38" dy="9.2">.ApoE</tspan><tspan font-style="italic" dy="-9.2" font-size="16.56">-/-</tspan><tspan dx="1.38" dy="9.2">-AngII+Apc001PE</tspan></text>
<text transform="translate(1964.6,360.7) rotate(-45)" x="0" y="0" font-size="23" text-anchor="end" stroke="#000" stroke-width="0.25"><tspan font-style="italic">hSOST</tspan><tspan font-style="italic" dy="-9.2" font-size="16.56">ki</tspan><tspan font-style="italic" dx="1.38" dy="9.2">.ApoE</tspan><tspan font-style="italic" dy="-9.2" font-size="16.56">-/-</tspan><tspan dx="1.38" dy="9.2">-AngII+antibody</tspan></text>
<text x="0.5" y="755.9" font-size="46" font-weight="bold" text-anchor="start" fill="#000">c</text>
<line x1="107.2" y1="819.7" x2="107.2" y2="1030.2" stroke="#000" stroke-width="2"/>
<line x1="98.7" y1="1029.2" x2="107.2" y2="1029.2" stroke="#000" stroke-width="2"/>
<text x="96.5" y="1035.03" font-size="16.2" font-weight="bold" text-anchor="end" fill="#222">0</text>
<line x1="98.7" y1="987.5" x2="107.2" y2="987.5" stroke="#000" stroke-width="2"/>
<text x="96.5" y="993.33" font-size="16.2" font-weight="bold" text-anchor="end" fill="#222">10</text>
<line x1="98.7" y1="945.8" x2="107.2" y2="945.8" stroke="#000" stroke-width="2"/>
<text x="96.5" y="951.63" font-size="16.2" font-weight="bold" text-anchor="end" fill="#222">20</text>
<line x1="98.7" y1="904.1" x2="107.2" y2="904.1" stroke="#000" stroke-width="2"/>
<text x="96.5" y="909.93" font-size="16.2" font-weight="bold" text-anchor="end" fill="#222">30</text>
<line x1="98.7" y1="862.4" x2="107.2" y2="862.4" stroke="#000" stroke-width="2"/>
<text x="96.5" y="868.23" font-size="16.2" font-weight="bold" text-anchor="end" fill="#222">40</text>
<line x1="98.7" y1="820.7" x2="107.2" y2="820.7" stroke="#000" stroke-width="2"/>
<text x="96.5" y="826.53" font-size="16.2" font-weight="bold" text-anchor="end" fill="#222">50</text>
<line x1="99.5" y1="1029.2" x2="419.7" y2="1029.2" stroke="#000" stroke-width="2"/>
<line x1="137.6" y1="1029.2" x2="137.6" y2="1037.7" stroke="#000" stroke-width="2"/>
<line x1="200.9" y1="1029.2" x2="200.9" y2="1037.7" stroke="#000" stroke-width="2"/>
<line x1="263" y1="1029.2" x2="263" y2="1037.7" stroke="#000" stroke-width="2"/>
<line x1="325.2" y1="1029.2" x2="325.2" y2="1037.7" stroke="#000" stroke-width="2"/>
<line x1="387.8" y1="1029.2" x2="387.8" y2="1037.7" stroke="#000" stroke-width="2"/>
<circle cx="138.5" cy="882.1" r="3.95"/>
<circle cx="138.5" cy="903.5" r="3.95"/>
<circle cx="138.5" cy="915.1" r="3.95"/>
<circle cx="138.5" cy="923.3" r="3.95"/>
<circle cx="121.8" cy="932" r="3.95"/>
<circle cx="155.1" cy="937.5" r="3.95"/>
<circle cx="138.5" cy="944.1" r="3.95"/>
<circle cx="121.8" cy="950.8" r="3.95"/>
<circle cx="155.1" cy="949.6" r="3.95"/>
<path d="M206.6 856.93L210.87 861.2L206.6 865.47L202.33 861.2Z"/>
<path d="M195.1 864.73L199.37 869L195.1 873.27L190.83 869Z"/>
<path d="M195.1 875.03L199.37 879.3L195.1 883.57L190.83 879.3Z"/>
<path d="M184.2 881.73L188.47 886L184.2 890.27L179.93 886Z"/>
<path d="M206.6 881.73L210.87 886L206.6 890.27L202.33 886Z"/>
<path d="M217.5 881.13L221.77 885.4L217.5 889.67L213.23 885.4Z"/>
<path d="M195.1 889.03L199.37 893.3L195.1 897.57L190.83 893.3Z"/>
<path d="M195.1 899.93L199.37 904.2L195.1 908.47L190.83 904.2Z"/>
<path d="M206.6 899.23L210.87 903.5L206.6 907.77L202.33 903.5Z"/>
<rect x="242.05" y="1023.05" width="7.9" height="7.9"/>
<rect x="247.05" y="1021.55" width="7.9" height="7.9"/>
<rect x="252.05" y="1023.55" width="7.9" height="7.9"/>
<rect x="257.05" y="1022.05" width="7.9" height="7.9"/>
<rect x="262.05" y="1023.05" width="7.9" height="7.9"/>
<rect x="267.05" y="1021.55" width="7.9" height="7.9"/>
<rect x="272.05" y="1023.55" width="7.9" height="7.9"/>
<rect x="277.05" y="1022.55" width="7.9" height="7.9"/>
<rect x="259.05" y="1024.55" width="7.9" height="7.9"/>
<path d="M309.5 1031.91L313.45 1024.8L305.55 1024.8Z"/>
<path d="M314 1029.91L317.95 1022.8L310.05 1022.8Z"/>
<path d="M318.5 1032.41L322.45 1025.3L314.55 1025.3Z"/>
<path d="M323 1029.41L326.95 1022.3L319.05 1022.3Z"/>
<path d="M327.5 1031.91L331.45 1024.8L323.55 1024.8Z"/>
<path d="M332 1030.41L335.95 1023.3L328.05 1023.3Z"/>
<path d="M336.5 1032.91L340.45 1025.8L332.55 1025.8Z"/>
<path d="M341 1031.91L344.95 1024.8L337.05 1024.8Z"/>
<path d="M342.5 1032.91L346.45 1025.8L338.55 1025.8Z"/>
<path d="M391.4 900.39L395.35 907.5L387.45 907.5Z"/>
<path d="M384.6 905.79L388.55 912.9L380.65 912.9Z"/>
<path d="M388 930.39L391.95 937.5L384.05 937.5Z"/>
<path d="M377.8 941.19L381.75 948.3L373.85 948.3Z"/>
<path d="M391.4 941.89L395.35 949L387.45 949Z"/>
<path d="M405.7 943.29L409.65 950.4L401.75 950.4Z"/>
<path d="M371 945.99L374.95 953.1L367.05 953.1Z"/>
<path d="M384.6 945.29L388.55 952.4L380.65 952.4Z"/>
<path d="M398.3 949.39L402.25 956.5L394.35 956.5Z"/>
<line x1="118" y1="926.6" x2="159" y2="926.6" stroke="#000" stroke-width="1.8"/>
<line x1="138.5" y1="903.5" x2="138.5" y2="949.6" stroke="#000" stroke-width="1.8"/>
<line x1="128.5" y1="903.5" x2="148.5" y2="903.5" stroke="#000" stroke-width="1.8"/>
<line x1="128.5" y1="949.6" x2="148.5" y2="949.6" stroke="#000" stroke-width="1.8"/>
<text x="138.2" y="866.9" font-size="14.5" font-weight="bold" text-anchor="middle" fill="#111" textLength="25.5" lengthAdjust="spacingAndGlyphs">****</text>
<line x1="180" y1="885.6" x2="221" y2="885.6" stroke="#000" stroke-width="1.8"/>
<line x1="200.5" y1="871.1" x2="200.5" y2="899.3" stroke="#000" stroke-width="1.8"/>
<line x1="190.5" y1="871.1" x2="210.5" y2="871.1" stroke="#000" stroke-width="1.8"/>
<line x1="190.5" y1="899.3" x2="210.5" y2="899.3" stroke="#000" stroke-width="1.8"/>
<text x="201" y="825.71" font-size="14.5" font-weight="bold" text-anchor="middle" fill="#111" textLength="25.5" lengthAdjust="spacingAndGlyphs">****</text>
<line x1="367.5" y1="937.2" x2="408.5" y2="937.2" stroke="#000" stroke-width="1.8"/>
<line x1="388" y1="919" x2="388" y2="955.1" stroke="#000" stroke-width="1.8"/>
<line x1="378" y1="919" x2="398" y2="919" stroke="#000" stroke-width="1.8"/>
<line x1="378" y1="955.1" x2="398" y2="955.1" stroke="#000" stroke-width="1.8"/>
<text x="388.4" y="887" font-size="14.5" font-weight="bold" text-anchor="middle" fill="#111" textLength="25.5" lengthAdjust="spacingAndGlyphs">****</text>
<text x="263.7" y="766.2" font-size="22.1" font-weight="bold" text-anchor="middle" fill="#000">Oil Red O staining</text>
<text x="263.3" y="792.7" font-size="22.1" font-weight="bold" text-anchor="middle" fill="#000">(aortic roots)</text>
<text transform="translate(67,924.5) rotate(-90)" x="0" y="0" font-size="22.1" font-weight="bold" text-anchor="middle">Percentage of positive stain (%)</text>
<text transform="translate(145,1057.8) rotate(-45)" x="0" y="0" font-size="22.8" text-anchor="end" stroke="#000" stroke-width="0.25"><tspan font-style="italic">ApoE</tspan><tspan font-style="italic" dy="-9.12" font-size="16.42">-/-</tspan><tspan dx="1.37" dy="9.12">-AngII+veh</tspan></text>
<text transform="translate(208.3,1057.8) rotate(-45)" x="0" y="0" font-size="22.8" text-anchor="end" stroke="#000" stroke-width="0.25"><tspan font-style="italic">ApoE</tspan><tspan font-style="italic" dy="-9.12" font-size="16.42">-/-</tspan><tspan dx="1.37" dy="9.12">-AngII+antibody</tspan></text>
<text transform="translate(270.4,1057.8) rotate(-45)" x="0" y="0" font-size="22.8" text-anchor="end" stroke="#000" stroke-width="0.25"><tspan font-style="italic">hSOST</tspan><tspan font-style="italic" dy="-9.12" font-size="16.42">ki</tspan><tspan font-style="italic" dx="1.37" dy="9.12">.ApoE</tspan><tspan font-style="italic" dy="-9.12" font-size="16.42">-/-</tspan><tspan dx="1.37" dy="9.12">-AngII+veh</tspan></text>
<text transform="translate(332.6,1057.8) rotate(-45)" x="0" y="0" font-size="22.8" text-anchor="end" stroke="#000" stroke-width="0.25"><tspan font-style="italic">hSOST</tspan><tspan font-style="italic" dy="-9.12" font-size="16.42">ki</tspan><tspan font-style="italic" dx="1.37" dy="9.12">.ApoE</tspan><tspan font-style="italic" dy="-9.12" font-size="16.42">-/-</tspan><tspan dx="1.37" dy="9.12">-AngII+Apc001PE</tspan></text>
<text transform="translate(395.2,1057.8) rotate(-45)" x="0" y="0" font-size="22.8" text-anchor="end" stroke="#000" stroke-width="0.25"><tspan font-style="italic">hSOST</tspan><tspan font-style="italic" dy="-9.12" font-size="16.42">ki</tspan><tspan font-style="italic" dx="1.37" dy="9.12">.ApoE</tspan><tspan font-style="italic" dy="-9.12" font-size="16.42">-/-</tspan><tspan dx="1.37" dy="9.12">-AngII+antibody</tspan></text>
<text x="486" y="755.9" font-size="46" font-weight="bold" text-anchor="start" fill="#000">d</text>
<line x1="590.4" y1="797.1" x2="590.4" y2="1039.4" stroke="#000" stroke-width="2"/>
<line x1="581.4" y1="1038.4" x2="590.4" y2="1038.4" stroke="#000" stroke-width="2"/>
<text x="580.5" y="1045.51" font-size="18.7" font-weight="bold" text-anchor="end" fill="#1a1a1a">0</text>
<line x1="581.4" y1="978.33" x2="590.4" y2="978.33" stroke="#000" stroke-width="2"/>
<text x="580.5" y="985.43" font-size="18.7" font-weight="bold" text-anchor="end" fill="#1a1a1a">10</text>
<line x1="581.4" y1="918.25" x2="590.4" y2="918.25" stroke="#000" stroke-width="2"/>
<text x="580.5" y="925.36" font-size="18.7" font-weight="bold" text-anchor="end" fill="#1a1a1a">20</text>
<line x1="581.4" y1="858.18" x2="590.4" y2="858.18" stroke="#000" stroke-width="2"/>
<text x="580.5" y="865.28" font-size="18.7" font-weight="bold" text-anchor="end" fill="#1a1a1a">30</text>
<line x1="581.4" y1="798.1" x2="590.4" y2="798.1" stroke="#000" stroke-width="2"/>
<text x="580.5" y="805.21" font-size="18.7" font-weight="bold" text-anchor="end" fill="#1a1a1a">40</text>
<line x1="583.4" y1="1038.4" x2="951.6" y2="1038.4" stroke="#000" stroke-width="2"/>
<line x1="626.3" y1="1038.4" x2="626.3" y2="1047.4" stroke="#000" stroke-width="2"/>
<line x1="698" y1="1038.4" x2="698" y2="1047.4" stroke="#000" stroke-width="2"/>
<line x1="770.2" y1="1038.4" x2="770.2" y2="1047.4" stroke="#000" stroke-width="2"/>
<line x1="842.4" y1="1038.4" x2="842.4" y2="1047.4" stroke="#000" stroke-width="2"/>
<line x1="914.6" y1="1038.4" x2="914.6" y2="1047.4" stroke="#000" stroke-width="2"/>
<circle cx="626.1" cy="933.8" r="4.45"/>
<circle cx="626.1" cy="945.3" r="4.45"/>
<circle cx="626.1" cy="957.6" r="4.45"/>
<circle cx="645.2" cy="958.3" r="4.45"/>
<circle cx="607" cy="962.8" r="4.45"/>
<circle cx="626.1" cy="970.5" r="4.45"/>
<circle cx="626.1" cy="985.5" r="4.45"/>
<circle cx="645.2" cy="986.9" r="4.45"/>
<circle cx="607" cy="992.3" r="4.45"/>
<path d="M688.8 848.59L693.61 853.4L688.8 858.21L683.99 853.4Z"/>
<path d="M707.8 846.29L712.61 851.1L707.8 855.91L702.99 851.1Z"/>
<path d="M679.2 861.49L684.01 866.3L679.2 871.11L674.39 866.3Z"/>
<path d="M698.3 864.89L703.11 869.7L698.3 874.51L693.49 869.7Z"/>
<path d="M698.3 875.09L703.11 879.9L698.3 884.71L693.49 879.9Z"/>
<path d="M717.4 888.79L722.21 893.6L717.4 898.41L712.59 893.6Z"/>
<path d="M698.3 894.89L703.11 899.7L698.3 904.51L693.49 899.7Z"/>
<path d="M679.2 901.69L684.01 906.5L679.2 911.31L674.39 906.5Z"/>
<path d="M717.4 899.69L722.21 904.5L717.4 909.31L712.59 904.5Z"/>
<rect x="746.55" y="1027.05" width="8.9" height="8.9"/>
<rect x="752.55" y="1026.55" width="8.9" height="8.9"/>
<rect x="758.55" y="1027.05" width="8.9" height="8.9"/>
<rect x="764.55" y="1026.55" width="8.9" height="8.9"/>
<rect x="770.55" y="1027.05" width="8.9" height="8.9"/>
<rect x="776.55" y="1026.55" width="8.9" height="8.9"/>
<rect x="782.55" y="1027.05" width="8.9" height="8.9"/>
<rect x="785.55" y="1027.55" width="8.9" height="8.9"/>
<rect x="761.55" y="1027.55" width="8.9" height="8.9"/>
<path d="M822 1027.59L826.45 1035.6L817.55 1035.6Z"/>
<path d="M828 1027.09L832.45 1035.1L823.55 1035.1Z"/>
<path d="M834 1027.59L838.45 1035.6L829.55 1035.6Z"/>
<path d="M840 1026.59L844.45 1034.6L835.55 1034.6Z"/>
<path d="M846 1027.59L850.45 1035.6L841.55 1035.6Z"/>
<path d="M852 1027.09L856.45 1035.1L847.55 1035.1Z"/>
<path d="M858 1027.59L862.45 1035.6L853.55 1035.6Z"/>
<path d="M862 1028.09L866.45 1036.1L857.55 1036.1Z"/>
<path d="M843 1028.59L847.45 1036.6L838.55 1036.6Z"/>
<path d="M908.1 948.71L912.55 940.7L903.65 940.7Z"/>
<path d="M895 955.51L899.45 947.5L890.55 947.5Z"/>
<path d="M907.5 964.01L911.95 956L903.05 956Z"/>
<path d="M921.1 964.01L925.55 956L916.65 956Z"/>
<path d="M914.9 973.11L919.35 965.1L910.45 965.1Z"/>
<path d="M907.5 988.41L911.95 980.4L903.05 980.4Z"/>
<path d="M921.1 988.41L925.55 980.4L916.65 980.4Z"/>
<path d="M934.2 989.01L938.65 981L929.75 981Z"/>
<path d="M895 996.41L899.45 988.4L890.55 988.4Z"/>
<line x1="602.2" y1="965.8" x2="650.2" y2="965.8" stroke="#000" stroke-width="1.9"/>
<line x1="626.2" y1="946" x2="626.2" y2="985.5" stroke="#000" stroke-width="1.9"/>
<line x1="614.2" y1="946" x2="638.2" y2="946" stroke="#000" stroke-width="1.9"/>
<line x1="614.2" y1="985.5" x2="638.2" y2="985.5" stroke="#000" stroke-width="1.9"/>
<text x="628.4" y="927.38" font-size="16.5" font-weight="bold" text-anchor="middle" fill="#000" textLength="29.5" lengthAdjust="spacingAndGlyphs">****</text>
<line x1="674.3" y1="880.6" x2="722.3" y2="880.6" stroke="#000" stroke-width="1.9"/>
<line x1="698.3" y1="859.5" x2="698.3" y2="902" stroke="#000" stroke-width="1.9"/>
<line x1="686.3" y1="859.5" x2="710.3" y2="859.5" stroke="#000" stroke-width="1.9"/>
<line x1="686.3" y1="902" x2="710.3" y2="902" stroke="#000" stroke-width="1.9"/>
<text x="699.7" y="842.99" font-size="16.5" font-weight="bold" text-anchor="middle" fill="#000" textLength="29.5" lengthAdjust="spacingAndGlyphs">****</text>
<line x1="890.7" y1="970.6" x2="938.7" y2="970.6" stroke="#000" stroke-width="1.9"/>
<line x1="914.7" y1="953.9" x2="914.7" y2="987.7" stroke="#000" stroke-width="1.9"/>
<line x1="902.7" y1="953.9" x2="926.7" y2="953.9" stroke="#000" stroke-width="1.9"/>
<line x1="902.7" y1="987.7" x2="926.7" y2="987.7" stroke="#000" stroke-width="1.9"/>
<text x="914.4" y="937.68" font-size="16.5" font-weight="bold" text-anchor="middle" fill="#000" textLength="29.5" lengthAdjust="spacingAndGlyphs">****</text>
<text x="770.9" y="792.4" font-size="25.6" font-weight="bold" text-anchor="middle" fill="#000">IL-6</text>
<text transform="translate(512.4,917.9) rotate(-90)" x="0" y="0" font-size="22.9" font-weight="bold" text-anchor="middle">Normalized by</text>
<text transform="translate(546.8,914.5) rotate(-90)" x="0" y="0" font-size="22.9" font-weight="bold" text-anchor="middle">hSOST<tspan dy="-9" font-weight="normal" font-size="17" stroke="#000" stroke-width="0.3" letter-spacing="1.6">Tg</tspan><tspan dy="9">.ApoE</tspan><tspan dy="-9" font-weight="normal" font-size="17" stroke="#000" stroke-width="0.3">-/-</tspan><tspan dy="9" dx="0.8">-AngII+veh</tspan></text>
<text transform="translate(634.4,1065.4) rotate(-45)" x="0" y="0" font-size="23.15" text-anchor="end" stroke="#000" stroke-width="0.25"><tspan>ApoE</tspan><tspan dy="-9.26" font-size="16.67">-/-</tspan><tspan dx="1.39" dy="9.26">-AngII+veh</tspan></text>
<text transform="translate(706.1,1065.4) rotate(-45)" x="0" y="0" font-size="23.15" text-anchor="end" stroke="#000" stroke-width="0.25"><tspan>ApoE</tspan><tspan dy="-9.26" font-size="16.67">-/-</tspan><tspan dx="1.39" dy="9.26">-AngII+antibody</tspan></text>
<text transform="translate(778.3,1065.4) rotate(-45)" x="0" y="0" font-size="23.15" text-anchor="end" stroke="#000" stroke-width="0.25"><tspan>hSOST</tspan><tspan dy="-9.26" font-size="16.67">ki</tspan><tspan dx="1.39" dy="9.26">.ApoE</tspan><tspan dy="-9.26" font-size="16.67">-/-</tspan><tspan dx="1.39" dy="9.26">-AngII+veh</tspan></text>
<text transform="translate(850.5,1065.4) rotate(-45)" x="0" y="0" font-size="23.15" text-anchor="end" stroke="#000" stroke-width="0.25"><tspan>hSOST</tspan><tspan dy="-9.26" font-size="16.67">ki</tspan><tspan dx="1.39" dy="9.26">.ApoE</tspan><tspan dy="-9.26" font-size="16.67">-/-</tspan><tspan dx="1.39" dy="9.26">-AngII+Apc001PE</tspan></text>
<text transform="translate(922.7,1065.4) rotate(-45)" x="0" y="0" font-size="23.15" text-anchor="end" stroke="#000" stroke-width="0.25"><tspan>hSOST</tspan><tspan dy="-9.26" font-size="16.67">ki</tspan><tspan dx="1.39" dy="9.26">.ApoE</tspan><tspan dy="-9.26" font-size="16.67">-/-</tspan><tspan dx="1.39" dy="9.26">-AngII+antibody</tspan></text>
<line x1="1104.4" y1="790.3" x2="1104.4" y2="1032.9" stroke="#000" stroke-width="2"/>
<line x1="1095.4" y1="1031.9" x2="1104.4" y2="1031.9" stroke="#000" stroke-width="2"/>
<text x="1095.8" y="1039.01" font-size="18.7" font-weight="bold" text-anchor="end" fill="#1a1a1a">0</text>
<line x1="1095.4" y1="951.7" x2="1104.4" y2="951.7" stroke="#000" stroke-width="2"/>
<text x="1095.8" y="958.81" font-size="18.7" font-weight="bold" text-anchor="end" fill="#1a1a1a">5</text>
<line x1="1095.4" y1="871.5" x2="1104.4" y2="871.5" stroke="#000" stroke-width="2"/>
<text x="1095.8" y="878.61" font-size="18.7" font-weight="bold" text-anchor="end" fill="#1a1a1a">10</text>
<line x1="1095.4" y1="791.3" x2="1104.4" y2="791.3" stroke="#000" stroke-width="2"/>
<text x="1095.8" y="798.41" font-size="18.7" font-weight="bold" text-anchor="end" fill="#1a1a1a">15</text>
<line x1="1097.6" y1="1031.9" x2="1465.5" y2="1031.9" stroke="#000" stroke-width="2"/>
<line x1="1139.9" y1="1031.9" x2="1139.9" y2="1040.9" stroke="#000" stroke-width="2"/>
<line x1="1212.9" y1="1031.9" x2="1212.9" y2="1040.9" stroke="#000" stroke-width="2"/>
<line x1="1284.8" y1="1031.9" x2="1284.8" y2="1040.9" stroke="#000" stroke-width="2"/>
<line x1="1357.3" y1="1031.9" x2="1357.3" y2="1040.9" stroke="#000" stroke-width="2"/>
<line x1="1429.2" y1="1031.9" x2="1429.2" y2="1040.9" stroke="#000" stroke-width="2"/>
<circle cx="1140.9" cy="949.6" r="4.45"/>
<circle cx="1121.5" cy="959.6" r="4.45"/>
<circle cx="1134.5" cy="964" r="4.45"/>
<circle cx="1160.3" cy="964.7" r="4.45"/>
<circle cx="1147.4" cy="968.3" r="4.45"/>
<circle cx="1121.5" cy="972.6" r="4.45"/>
<circle cx="1160.3" cy="974.7" r="4.45"/>
<circle cx="1147.4" cy="980.5" r="4.45"/>
<circle cx="1121.5" cy="984.1" r="4.45"/>
<path d="M1207.1 821.79L1211.91 826.6L1207.1 831.41L1202.29 826.6Z"/>
<path d="M1220 818.89L1224.81 823.7L1220 828.51L1215.19 823.7Z"/>
<path d="M1207.1 836.19L1211.91 841L1207.1 845.81L1202.29 841Z"/>
<path d="M1220 839.09L1224.81 843.9L1220 848.71L1215.19 843.9Z"/>
<path d="M1194.1 841.89L1198.91 846.7L1194.1 851.51L1189.29 846.7Z"/>
<path d="M1207.1 848.39L1211.91 853.2L1207.1 858.01L1202.29 853.2Z"/>
<path d="M1233 846.99L1237.81 851.8L1233 856.61L1228.19 851.8Z"/>
<path d="M1220 854.89L1224.81 859.7L1220 864.51L1215.19 859.7Z"/>
<path d="M1212.8 873.59L1217.61 878.4L1212.8 883.21L1207.99 878.4Z"/>
<rect x="1261.55" y="1011.55" width="8.9" height="8.9"/>
<rect x="1267.55" y="1010.55" width="8.9" height="8.9"/>
<rect x="1273.55" y="1012.05" width="8.9" height="8.9"/>
<rect x="1279.55" y="1011.05" width="8.9" height="8.9"/>
<rect x="1285.55" y="1011.55" width="8.9" height="8.9"/>
<rect x="1291.55" y="1012.05" width="8.9" height="8.9"/>
<rect x="1299.55" y="1011.55" width="8.9" height="8.9"/>
<rect x="1279.55" y="1014.55" width="8.9" height="8.9"/>
<rect x="1285.55" y="1009.55" width="8.9" height="8.9"/>
<path d="M1338 1012.59L1342.45 1020.6L1333.55 1020.6Z"/>
<path d="M1344 1009.59L1348.45 1017.6L1339.55 1017.6Z"/>
<path d="M1350 1011.59L1354.45 1019.6L1345.55 1019.6Z"/>
<path d="M1356 1008.59L1360.45 1016.6L1351.55 1016.6Z"/>
<path d="M1362 1011.59L1366.45 1019.6L1357.55 1019.6Z"/>
<path d="M1368 1011.59L1372.45 1019.6L1363.55 1019.6Z"/>
<path d="M1376.5 1012.59L1380.95 1020.6L1372.05 1020.6Z"/>
<path d="M1358 1015.59L1362.45 1023.6L1353.55 1023.6Z"/>
<path d="M1348 1014.59L1352.45 1022.6L1343.55 1022.6Z"/>
<path d="M1425.3 968.11L1429.75 960.1L1420.85 960.1Z"/>
<path d="M1449 967.01L1453.45 959L1444.55 959Z"/>
<path d="M1410 973.91L1414.45 965.9L1405.55 965.9Z"/>
<path d="M1418 975.41L1422.45 967.4L1413.55 967.4Z"/>
<path d="M1433.7 974.91L1438.15 966.9L1429.25 966.9Z"/>
<path d="M1410 986.51L1414.45 978.5L1405.55 978.5Z"/>
<path d="M1425.3 985.51L1429.75 977.5L1420.85 977.5Z"/>
<path d="M1440.5 986.51L1444.95 978.5L1436.05 978.5Z"/>
<path d="M1449 982.81L1453.45 974.8L1444.55 974.8Z"/>
<line x1="1116.5" y1="969" x2="1164.5" y2="969" stroke="#000" stroke-width="1.9"/>
<line x1="1140.5" y1="958.2" x2="1140.5" y2="979.5" stroke="#000" stroke-width="1.9"/>
<line x1="1128.5" y1="958.2" x2="1152.5" y2="958.2" stroke="#000" stroke-width="1.9"/>
<line x1="1128.5" y1="979.5" x2="1152.5" y2="979.5" stroke="#000" stroke-width="1.9"/>
<text x="1142.3" y="942.99" font-size="16.5" font-weight="bold" text-anchor="middle" fill="#000" textLength="29.5" lengthAdjust="spacingAndGlyphs">****</text>
<line x1="1189" y1="847" x2="1237" y2="847" stroke="#000" stroke-width="1.9"/>
<line x1="1213" y1="830.5" x2="1213" y2="863.7" stroke="#000" stroke-width="1.9"/>
<line x1="1201" y1="830.5" x2="1225" y2="830.5" stroke="#000" stroke-width="1.9"/>
<line x1="1201" y1="863.7" x2="1225" y2="863.7" stroke="#000" stroke-width="1.9"/>
<text x="1214.6" y="818.59" font-size="16.5" font-weight="bold" text-anchor="middle" fill="#000" textLength="29.5" lengthAdjust="spacingAndGlyphs">****</text>
<line x1="1405.3" y1="975.6" x2="1453.3" y2="975.6" stroke="#000" stroke-width="1.9"/>
<line x1="1429.3" y1="967.9" x2="1429.3" y2="982.1" stroke="#000" stroke-width="1.9"/>
<line x1="1417.3" y1="967.9" x2="1441.3" y2="967.9" stroke="#000" stroke-width="1.9"/>
<line x1="1417.3" y1="982.1" x2="1441.3" y2="982.1" stroke="#000" stroke-width="1.9"/>
<text x="1429" y="952.38" font-size="16.5" font-weight="bold" text-anchor="middle" fill="#000" textLength="29.5" lengthAdjust="spacingAndGlyphs">****</text>
<text x="1285.2" y="785.6" font-size="27" font-weight="bold" text-anchor="middle" fill="#000">TNF<tspan font-family="&apos;Liberation Serif&apos;, serif" font-style="italic" font-size="29" dx="-0.5">&#945;</tspan></text>
<text transform="translate(1027.7,912) rotate(-90)" x="0" y="0" font-size="22.9" font-weight="bold" text-anchor="middle">Normalized by</text>
<text transform="translate(1061.8,907.5) rotate(-90)" x="0" y="0" font-size="22.9" font-weight="bold" text-anchor="middle">hSOST<tspan dy="-9" font-weight="normal" font-size="17" stroke="#000" stroke-width="0.3" letter-spacing="1.6">Tg</tspan><tspan dy="9">.ApoE</tspan><tspan dy="-9" font-weight="normal" font-size="17" stroke="#000" stroke-width="0.3">-/-</tspan><tspan dy="9" dx="0.8">-AngII+veh</tspan></text>
<text transform="translate(1149.4,1059.2) rotate(-45)" x="0" y="0" font-size="23.2" text-anchor="end" stroke="#000" stroke-width="0.25"><tspan>ApoE</tspan><tspan dy="-9.28" font-size="16.7">-/-</tspan><tspan dx="1.39" dy="9.28">-AngII+veh</tspan></text>
<text transform="translate(1222.4,1059.2) rotate(-45)" x="0" y="0" font-size="23.2" text-anchor="end" stroke="#000" stroke-width="0.25"><tspan>ApoE</tspan><tspan dy="-9.28" font-size="16.7">-/-</tspan><tspan dx="1.39" dy="9.28">-AngII+antibody</tspan></text>
<text transform="translate(1294.3,1059.2) rotate(-45)" x="0" y="0" font-size="23.2" text-anchor="end" stroke="#000" stroke-width="0.25"><tspan>hSOST</tspan><tspan dy="-9.28" font-size="16.7">ki</tspan><tspan dx="1.39" dy="9.28">.ApoE</tspan><tspan dy="-9.28" font-size="16.7">-/-</tspan><tspan dx="1.39" dy="9.28">-AngII+veh</tspan></text>
<text transform="translate(1366.8,1059.2) rotate(-45)" x="0" y="0" font-size="23.2" text-anchor="end" stroke="#000" stroke-width="0.25"><tspan>hSOST</tspan><tspan dy="-9.28" font-size="16.7">ki</tspan><tspan dx="1.39" dy="9.28">.ApoE</tspan><tspan dy="-9.28" font-size="16.7">-/-</tspan><tspan dx="1.39" dy="9.28">-AngII+Apc001PE</tspan></text>
<text transform="translate(1438.7,1059.2) rotate(-45)" x="0" y="0" font-size="23.2" text-anchor="end" stroke="#000" stroke-width="0.25"><tspan>hSOST</tspan><tspan dy="-9.28" font-size="16.7">ki</tspan><tspan dx="1.39" dy="9.28">.ApoE</tspan><tspan dy="-9.28" font-size="16.7">-/-</tspan><tspan dx="1.39" dy="9.28">-AngII+antibody</tspan></text>
<line x1="1616.3" y1="786.7" x2="1616.3" y2="1028.5" stroke="#000" stroke-width="2"/>
<line x1="1607.3" y1="1027.5" x2="1616.3" y2="1027.5" stroke="#000" stroke-width="2"/>
<text x="1608.7" y="1034.61" font-size="18.7" font-weight="bold" text-anchor="end" fill="#1a1a1a">0</text>
<line x1="1607.3" y1="947.57" x2="1616.3" y2="947.57" stroke="#000" stroke-width="2"/>
<text x="1608.7" y="954.67" font-size="18.7" font-weight="bold" text-anchor="end" fill="#1a1a1a">5</text>
<line x1="1607.3" y1="867.63" x2="1616.3" y2="867.63" stroke="#000" stroke-width="2"/>
<text x="1608.7" y="874.74" font-size="18.7" font-weight="bold" text-anchor="end" fill="#1a1a1a">10</text>
<line x1="1607.3" y1="787.7" x2="1616.3" y2="787.7" stroke="#000" stroke-width="2"/>
<text x="1608.7" y="794.81" font-size="18.7" font-weight="bold" text-anchor="end" fill="#1a1a1a">15</text>
<line x1="1609.5" y1="1027.5" x2="1978" y2="1027.5" stroke="#000" stroke-width="2"/>
<line x1="1652.2" y1="1027.5" x2="1652.2" y2="1036.5" stroke="#000" stroke-width="2"/>
<line x1="1724.7" y1="1027.5" x2="1724.7" y2="1036.5" stroke="#000" stroke-width="2"/>
<line x1="1796.6" y1="1027.5" x2="1796.6" y2="1036.5" stroke="#000" stroke-width="2"/>
<line x1="1869.1" y1="1027.5" x2="1869.1" y2="1036.5" stroke="#000" stroke-width="2"/>
<line x1="1941" y1="1027.5" x2="1941" y2="1036.5" stroke="#000" stroke-width="2"/>
<circle cx="1638.7" cy="946.4" r="4.45"/>
<circle cx="1633.1" cy="951.5" r="4.45"/>
<circle cx="1645" cy="949.8" r="4.45"/>
<circle cx="1666.6" cy="947" r="4.45"/>
<circle cx="1672.2" cy="949.2" r="4.45"/>
<circle cx="1655.2" cy="957.2" r="4.45"/>
<circle cx="1660.9" cy="956" r="4.45"/>
<circle cx="1644.4" cy="961.7" r="4.45"/>
<circle cx="1650.1" cy="954.9" r="4.45"/>
<path d="M1717.7 856.99L1722.51 861.8L1717.7 866.61L1712.89 861.8Z"/>
<path d="M1731.3 857.59L1736.11 862.4L1731.3 867.21L1726.49 862.4Z"/>
<path d="M1744.3 853.59L1749.11 858.4L1744.3 863.21L1739.49 858.4Z"/>
<path d="M1705.2 867.79L1710.01 872.6L1705.2 877.41L1700.39 872.6Z"/>
<path d="M1731.3 871.19L1736.11 876L1731.3 880.81L1726.49 876Z"/>
<path d="M1744.3 871.19L1749.11 876L1744.3 880.81L1739.49 876Z"/>
<path d="M1717.7 876.89L1722.51 881.7L1717.7 886.51L1712.89 881.7Z"/>
<path d="M1731.3 884.79L1736.11 889.6L1731.3 894.41L1726.49 889.6Z"/>
<path d="M1724.5 894.99L1729.31 899.8L1724.5 904.61L1719.69 899.8Z"/>
<rect x="1773.25" y="1001.45" width="8.9" height="8.9"/>
<rect x="1773.25" y="1011.35" width="8.9" height="8.9"/>
<rect x="1779.85" y="1004.75" width="8.9" height="8.9"/>
<rect x="1789.55" y="1007.55" width="8.9" height="8.9"/>
<rect x="1798.65" y="1002.55" width="8.9" height="8.9"/>
<rect x="1798.65" y="1013.65" width="8.9" height="8.9"/>
<rect x="1804.15" y="1006.95" width="8.9" height="8.9"/>
<rect x="1811.85" y="1011.35" width="8.9" height="8.9"/>
<rect x="1792.05" y="1011.35" width="8.9" height="8.9"/>
<path d="M1849.4 1009.19L1853.85 1017.2L1844.95 1017.2Z"/>
<path d="M1855.5 1003.69L1859.95 1011.7L1851.05 1011.7Z"/>
<path d="M1863.7 1005.89L1868.15 1013.9L1859.25 1013.9Z"/>
<path d="M1871.5 1001.49L1875.95 1009.5L1867.05 1009.5Z"/>
<path d="M1871.5 1014.69L1875.95 1022.7L1867.05 1022.7Z"/>
<path d="M1877 1006.99L1881.45 1015L1872.55 1015Z"/>
<path d="M1883.6 1012.49L1888.05 1020.5L1879.15 1020.5Z"/>
<path d="M1888.5 1006.99L1892.95 1015L1884.05 1015Z"/>
<path d="M1866 1008.59L1870.45 1016.6L1861.55 1016.6Z"/>
<path d="M1931.6 947.41L1936.05 939.4L1927.15 939.4Z"/>
<path d="M1921.1 956.21L1925.55 948.2L1916.65 948.2Z"/>
<path d="M1940.4 952.91L1944.85 944.9L1935.95 944.9Z"/>
<path d="M1950.3 951.81L1954.75 943.8L1945.85 943.8Z"/>
<path d="M1960.8 956.81L1965.25 948.8L1956.35 948.8Z"/>
<path d="M1931.6 958.41L1936.05 950.4L1927.15 950.4Z"/>
<path d="M1940.4 962.81L1944.85 954.8L1935.95 954.8Z"/>
<path d="M1950.3 965.61L1954.75 957.6L1945.85 957.6Z"/>
<path d="M1931.6 971.71L1936.05 963.7L1927.15 963.7Z"/>
<line x1="1628.5" y1="950.4" x2="1676.5" y2="950.4" stroke="#000" stroke-width="1.9"/>
<line x1="1652.5" y1="947.2" x2="1652.5" y2="954" stroke="#000" stroke-width="1.9"/>
<line x1="1640.5" y1="947.2" x2="1664.5" y2="947.2" stroke="#000" stroke-width="1.9"/>
<line x1="1640.5" y1="954" x2="1664.5" y2="954" stroke="#000" stroke-width="1.9"/>
<text x="1654" y="938.49" font-size="16.5" font-weight="bold" text-anchor="middle" fill="#000" textLength="29.5" lengthAdjust="spacingAndGlyphs">****</text>
<line x1="1701" y1="875.4" x2="1749" y2="875.4" stroke="#000" stroke-width="1.9"/>
<line x1="1725" y1="861.8" x2="1725" y2="889.1" stroke="#000" stroke-width="1.9"/>
<line x1="1713" y1="861.8" x2="1737" y2="861.8" stroke="#000" stroke-width="1.9"/>
<line x1="1713" y1="889.1" x2="1737" y2="889.1" stroke="#000" stroke-width="1.9"/>
<text x="1725.9" y="851.09" font-size="16.5" font-weight="bold" text-anchor="middle" fill="#000" textLength="29.5" lengthAdjust="spacingAndGlyphs">****</text>
<line x1="1917" y1="954.6" x2="1965" y2="954.6" stroke="#000" stroke-width="1.9"/>
<line x1="1941" y1="949" x2="1941" y2="960.5" stroke="#000" stroke-width="1.9"/>
<line x1="1929" y1="949" x2="1953" y2="949" stroke="#000" stroke-width="1.9"/>
<line x1="1929" y1="960.5" x2="1953" y2="960.5" stroke="#000" stroke-width="1.9"/>
<text x="1941" y="934.59" font-size="16.5" font-weight="bold" text-anchor="middle" fill="#000" textLength="29.5" lengthAdjust="spacingAndGlyphs">****</text>
<text x="1796" y="781.6" font-size="25.3" font-weight="bold" text-anchor="middle" fill="#000">MCP-1</text>
<text transform="translate(1538.5,907.9) rotate(-90)" x="0" y="0" font-size="22.9" font-weight="bold" text-anchor="middle">Normalized by</text>
<text transform="translate(1572.4,903.5) rotate(-90)" x="0" y="0" font-size="22.9" font-weight="bold" text-anchor="middle">hSOST<tspan dy="-9" font-weight="normal" font-size="17" stroke="#000" stroke-width="0.3" letter-spacing="1.6">Tg</tspan><tspan dy="9">.ApoE</tspan><tspan dy="-9" font-weight="normal" font-size="17" stroke="#000" stroke-width="0.3">-/-</tspan><tspan dy="9" dx="0.8">-AngII+veh</tspan></text>
<text transform="translate(1660.7,1055.2) rotate(-45)" x="0" y="0" font-size="23.2" text-anchor="end" stroke="#000" stroke-width="0.25"><tspan>ApoE</tspan><tspan dy="-9.28" font-size="16.7">-/-</tspan><tspan dx="1.39" dy="9.28">-AngII+veh</tspan></text>
<text transform="translate(1733.2,1055.2) rotate(-45)" x="0" y="0" font-size="23.2" text-anchor="end" stroke="#000" stroke-width="0.25"><tspan>ApoE</tspan><tspan dy="-9.28" font-size="16.7">-/-</tspan><tspan dx="1.39" dy="9.28">-AngII+antibody</tspan></text>
<text transform="translate(1805.1,1055.2) rotate(-45)" x="0" y="0" font-size="23.2" text-anchor="end" stroke="#000" stroke-width="0.25"><tspan>hSOST</tspan><tspan dy="-9.28" font-size="16.7">ki</tspan><tspan dx="1.39" dy="9.28">.ApoE</tspan><tspan dy="-9.28" font-size="16.7">-/-</tspan><tspan dx="1.39" dy="9.28">-AngII+veh</tspan></text>
<text transform="translate(1877.6,1055.2) rotate(-45)" x="0" y="0" font-size="23.2" text-anchor="end" stroke="#000" stroke-width="0.25"><tspan>hSOST</tspan><tspan dy="-9.28" font-size="16.7">ki</tspan><tspan dx="1.39" dy="9.28">.ApoE</tspan><tspan dy="-9.28" font-size="16.7">-/-</tspan><tspan dx="1.39" dy="9.28">-AngII+Apc001PE</tspan></text>
<text transform="translate(1949.5,1055.2) rotate(-45)" x="0" y="0" font-size="23.2" text-anchor="end" stroke="#000" stroke-width="0.25"><tspan>hSOST</tspan><tspan dy="-9.28" font-size="16.7">ki</tspan><tspan dx="1.39" dy="9.28">.ApoE</tspan><tspan dy="-9.28" font-size="16.7">-/-</tspan><tspan dx="1.39" dy="9.28">-AngII+antibody</tspan></text>
</svg></body></html>
